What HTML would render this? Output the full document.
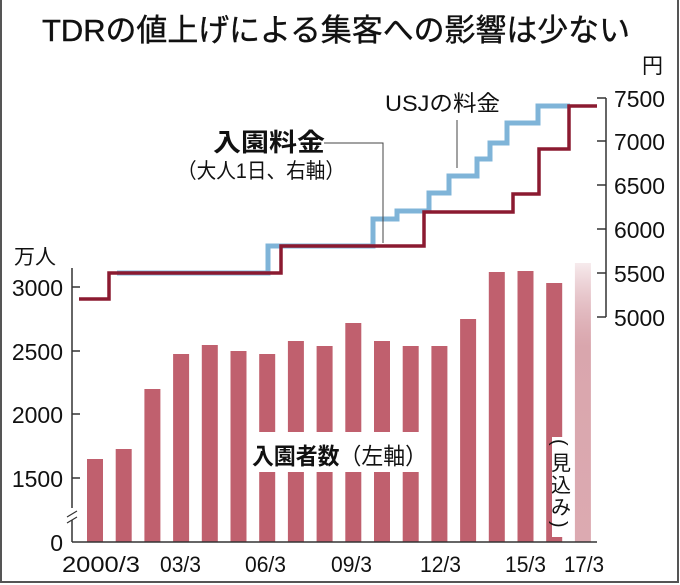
<!DOCTYPE html>
<html><head><meta charset="utf-8"><style>
html,body{margin:0;padding:0;background:#fff}
svg{display:block}
text{font-family:"Liberation Sans","Noto Sans CJK JP",sans-serif;fill:#111}
</style></head><body>
<svg width="680" height="585" viewBox="0 0 680 585" xmlns="http://www.w3.org/2000/svg">
<rect x="1" y="-2" width="677" height="584" fill="#fff" stroke="#555" stroke-width="2"/>
<text x="42" y="41" font-size="31" textLength="588" lengthAdjust="spacingAndGlyphs" stroke="#111" stroke-width="0.4">TDRの値上げによる集客への影響は少ない</text>
<defs><linearGradient id="fade" x1="0" y1="0" x2="0" y2="1">
<stop offset="0" stop-color="#c77a86" stop-opacity="0.15"/><stop offset="0.3" stop-color="#d9a6ad"/><stop offset="1" stop-color="#dcaab1"/></linearGradient></defs>
<g fill="#c0606e">
<rect x="87" y="459" width="16" height="83"/>
<rect x="115.7" y="449" width="16" height="93"/>
<rect x="144.4" y="389" width="16" height="153"/>
<rect x="173.1" y="354" width="16" height="188"/>
<rect x="201.8" y="345" width="16" height="197"/>
<rect x="230.5" y="351" width="16" height="191"/>
<rect x="259.2" y="354" width="16" height="188"/>
<rect x="287.9" y="341" width="16" height="201"/>
<rect x="316.6" y="346" width="16" height="196"/>
<rect x="345.3" y="323" width="16" height="219"/>
<rect x="374" y="341" width="16" height="201"/>
<rect x="402.7" y="346" width="16" height="196"/>
<rect x="431.4" y="346" width="16" height="196"/>
<rect x="460.1" y="319" width="16" height="223"/>
<rect x="488.8" y="272" width="16" height="270"/>
<rect x="517.5" y="271" width="16" height="271"/>
<rect x="546.2" y="283" width="16" height="259"/>
</g>
<rect x="574.9" y="263" width="16" height="279" fill="url(#fade)"/>
<rect x="250" y="432" width="180" height="40" fill="#fff"/>
<rect x="552" y="437" width="18" height="100" fill="#fff"/>
<text x="252" y="464" font-size="23" font-weight="bold" textLength="175" lengthAdjust="spacingAndGlyphs">入園者数<tspan font-weight="normal">（左軸）</tspan></text>
<text font-size="20" transform="translate(553,439) rotate(90)">(</text>
<text x="551" y="470" font-size="20">見</text>
<text x="551" y="492" font-size="20">込</text>
<text x="551" y="514" font-size="20">み</text>
<text font-size="20" transform="translate(553,521) rotate(90)">)</text>
<g stroke="#333" stroke-width="1.5" fill="none">
<line x1="72" y1="268" x2="72" y2="508"/>
<line x1="72" y1="520" x2="72" y2="542"/>
<path d="M67 517 L77 511 M67 523 L77 517" stroke-width="1.2"/>
<line x1="72" y1="542" x2="597" y2="542"/>
<line x1="72" y1="287" x2="80" y2="287"/><line x1="72" y1="351" x2="80" y2="351"/>
<line x1="72" y1="414" x2="80" y2="414"/><line x1="72" y1="478" x2="80" y2="478"/>
</g>
<g font-size="23" text-anchor="end">
<text x="63" y="296">3000</text><text x="63" y="360">2500</text><text x="63" y="423">2000</text><text x="63" y="487">1500</text><text x="63" y="551">0</text>
</g>
<text x="14" y="264" font-size="21">万人</text>
<g font-size="22">
<text x="62" y="572" textLength="78" lengthAdjust="spacingAndGlyphs">2000/3</text>
<text x="160" y="572" textLength="41" lengthAdjust="spacingAndGlyphs">03/3</text>
<text x="245" y="572" textLength="41" lengthAdjust="spacingAndGlyphs">06/3</text>
<text x="331" y="572" textLength="41" lengthAdjust="spacingAndGlyphs">09/3</text>
<text x="420" y="572" textLength="41" lengthAdjust="spacingAndGlyphs">12/3</text>
<text x="505" y="572" textLength="41" lengthAdjust="spacingAndGlyphs">15/3</text>
<text x="564" y="572" textLength="40" lengthAdjust="spacingAndGlyphs">17/3</text>
</g>
<g stroke="#333" stroke-width="1.5" fill="none">
<line x1="606" y1="98" x2="606" y2="317"/>
<line x1="597" y1="98" x2="606" y2="98"/><line x1="597" y1="141" x2="606" y2="141"/><line x1="597" y1="185" x2="606" y2="185"/>
<line x1="597" y1="229" x2="606" y2="229"/><line x1="597" y1="273" x2="606" y2="273"/><line x1="597" y1="317" x2="606" y2="317"/>
</g>
<g font-size="23">
<text x="614" y="107" textLength="51" lengthAdjust="spacingAndGlyphs">7500</text>
<text x="614" y="150" textLength="51" lengthAdjust="spacingAndGlyphs">7000</text>
<text x="614" y="194" textLength="51" lengthAdjust="spacingAndGlyphs">6500</text>
<text x="614" y="238" textLength="51" lengthAdjust="spacingAndGlyphs">6000</text>
<text x="614" y="282" textLength="51" lengthAdjust="spacingAndGlyphs">5500</text>
<text x="614" y="326" textLength="51" lengthAdjust="spacingAndGlyphs">5000</text>
</g>
<text x="642" y="73" font-size="21">円</text>
<path d="M117 273 L268 273 L268 246 L373 246 L373 219 L397 219 L397 211 L429 211 L429 193 L449 193 L449 176 L477 176 L477 159 L490 159 L490 143 L507 143 L507 123 L538 123 L538 106 L570 106" fill="none" stroke="#7fb4d8" stroke-width="5"/>
<path d="M79 299 L109 299 L109 273 L281 273 L281 246 L424 246 L424 212 L513 212 L513 194 L539 194 L539 149 L569 149 L569 106 L597 106" fill="none" stroke="#8b1a30" stroke-width="3.5"/>
<text x="385" y="111" font-size="22" textLength="115" lengthAdjust="spacingAndGlyphs">USJの料金</text>
<line x1="457" y1="120" x2="457" y2="168" stroke="#444" stroke-width="1"/>
<text x="213" y="151" font-size="25" font-weight="bold" textLength="112" lengthAdjust="spacingAndGlyphs">入園料金</text>
<text x="177" y="178" font-size="21" textLength="168" lengthAdjust="spacingAndGlyphs">（大人1日、右軸）</text>
<path d="M324 143 L383 143 L383 243" fill="none" stroke="#444" stroke-width="1"/>
</svg>
</body></html>
